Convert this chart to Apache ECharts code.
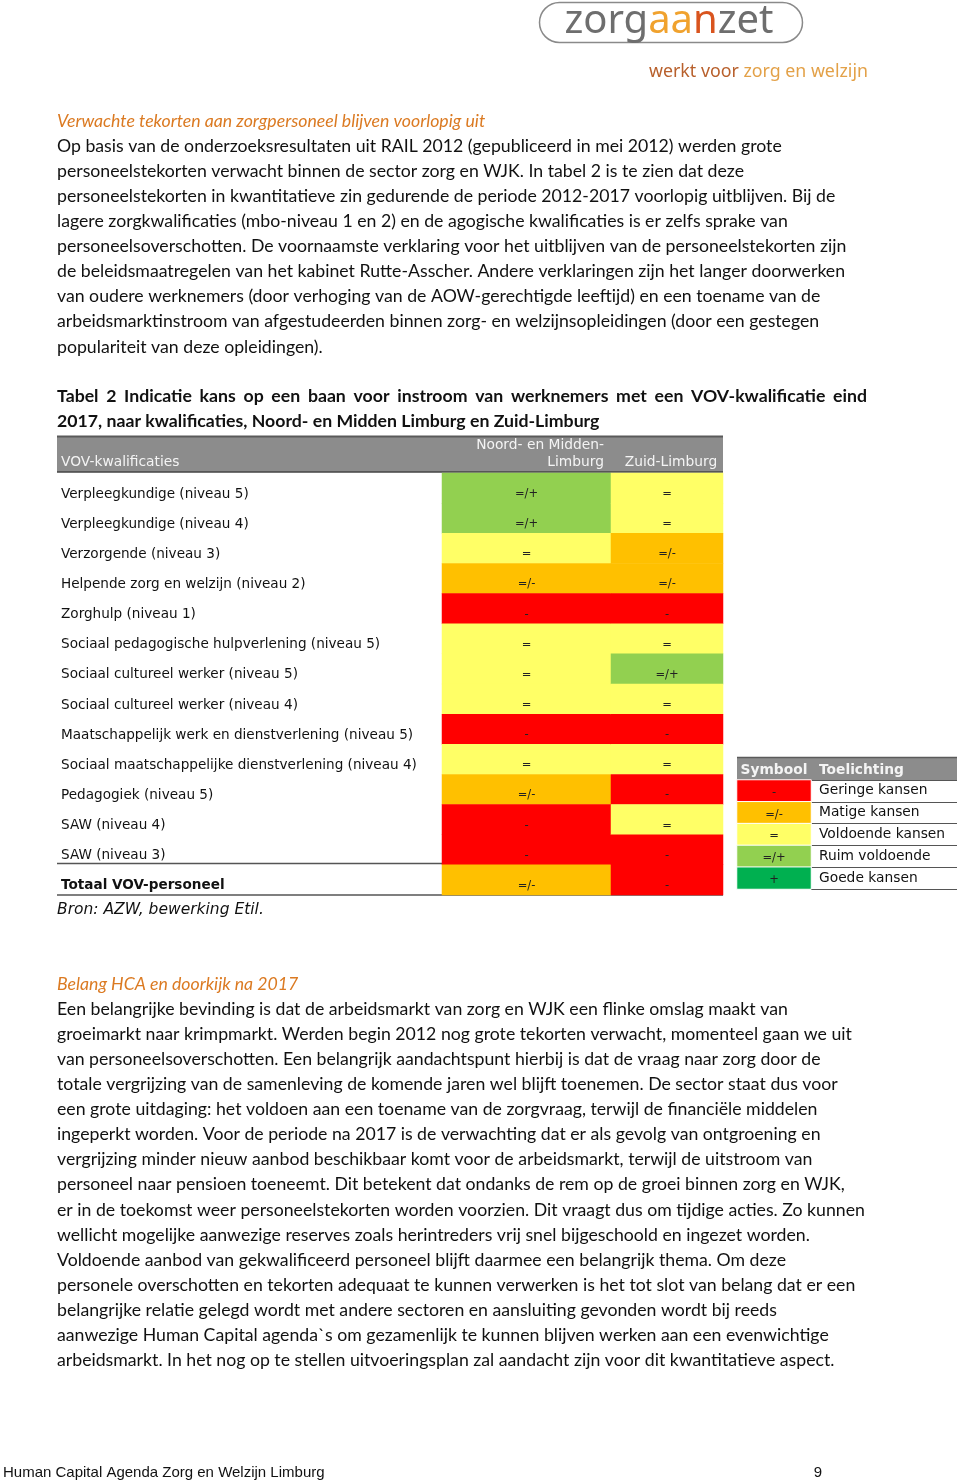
<!DOCTYPE html>
<html><head><meta charset="utf-8">
<script src="https://cdn.jsdelivr.net/npm/echarts@6/dist/echarts.min.js"></script>
<style>html,body{margin:0;padding:0;background:#fff}#c{width:960px;height:1484px}</style>
</head><body><div id="c"></div>
<script>
// ---- data ----
const rowLabels = [
  'Verpleegkundige (niveau 5)',
  'Verpleegkundige (niveau 4)',
  'Verzorgende (niveau 3)',
  'Helpende zorg en welzijn (niveau 2)',
  'Zorghulp (niveau 1)',
  'Sociaal pedagogische hulpverlening (niveau 5)',
  'Sociaal cultureel werker (niveau 5)',
  'Sociaal cultureel werker (niveau 4)',
  'Maatschappelijk werk en dienstverlening (niveau 5)',
  'Sociaal maatschappelijke dienstverlening (niveau 4)',
  'Pedagogiek (niveau 5)',
  'SAW (niveau 4)',
  'SAW (niveau 3)',
  'Totaal VOV-personeel'
];
const regions = ['Noord- en Midden-Limburg', 'Zuid-Limburg'];
// -2 = '-', -1 = '=/-', 0 = '=', 1 = '=/+', 2 = '+'
const noordValues = [1, 1, 0, -1, -2, 0, 0, 0, -2, 0, -1, -2, -2, -1];
const zuidValues  = [0, 0, -1, -1, -2, 0, 1, 0, -2, 0, -2, 0, -2, -2];
const levelValues = [-2, -1, 0, 1, 2];
const levelSymbols = ['-', '=/-', '=', '=/+', '+'];
const levelTexts = ['Geringe kansen', 'Matige kansen', 'Voldoende kansen', 'Ruim voldoende', 'Goede kansen'];
const levelColors = ['#FF0000', '#FFC000', '#FFFF66', '#92D050', '#00B050'];

const para1 = [
  'Op basis van de onderzoeksresultaten uit RAIL 2012 (gepubliceerd in mei 2012) werden grote',
  'personeelstekorten verwacht binnen de sector zorg en WJK. In tabel 2 is te zien dat deze',
  'personeelstekorten in kwantitatieve zin gedurende de periode 2012-2017 voorlopig uitblijven. Bij de',
  'lagere zorgkwalificaties (mbo-niveau 1 en 2) en de agogische kwalificaties is er zelfs sprake van',
  'personeelsoverschotten. De voornaamste verklaring voor het uitblijven van de personeelstekorten zijn',
  'de beleidsmaatregelen van het kabinet Rutte-Asscher. Andere verklaringen zijn het langer doorwerken',
  'van oudere werknemers (door verhoging van de AOW-gerechtigde leeftijd) en een toename van de',
  'arbeidsmarktinstroom van afgestudeerden binnen zorg- en welzijnsopleidingen (door een gestegen',
  'populariteit van deze opleidingen).'
];
const para2 = [
  'Een belangrijke bevinding is dat de arbeidsmarkt van zorg en WJK een flinke omslag maakt van',
  'groeimarkt naar krimpmarkt. Werden begin 2012 nog grote tekorten verwacht, momenteel gaan we uit',
  'van personeelsoverschotten. Een belangrijk aandachtspunt hierbij is dat de vraag naar zorg door de',
  'totale vergrijzing van de samenleving de komende jaren wel blijft toenemen. De sector staat dus voor',
  'een grote uitdaging: het voldoen aan een toename van de zorgvraag, terwijl de financiële middelen',
  'ingeperkt worden. Voor de periode na 2017 is de verwachting dat er als gevolg van ontgroening en',
  'vergrijzing minder nieuw aanbod beschikbaar komt voor de arbeidsmarkt, terwijl de uitstroom van',
  'personeel naar pensioen toeneemt. Dit betekent dat ondanks de rem op de groei binnen zorg en WJK,',
  'er in de toekomst weer personeelstekorten worden voorzien. Dit vraagt dus om tijdige acties. Zo kunnen',
  'wellicht mogelijke aanwezige reserves zoals herintreders vrij snel bijgeschoold en ingezet worden.',
  'Voldoende aanbod van gekwalificeerd personeel blijft daarmee een belangrijk thema. Om deze',
  'personele overschotten en tekorten adequaat te kunnen verwerken is het tot slot van belang dat er een',
  'belangrijke relatie gelegd wordt met andere sectoren en aansluiting gevonden wordt bij reeds',
  'aanwezige Human Capital agenda`s om gezamenlijk te kunnen blijven werken aan een evenwichtige',
  'arbeidsmarkt. In het nog op te stellen uitvoeringsplan zal aandacht zijn voor dit kwantitatieve aspect.'
];

// ---- build ----
const chart = echarts.init(document.getElementById('c'), null, {renderer: 'canvas'});
const BODY = '17.7px Lato';
const TF = 'DejaVu Sans';
const g = [];
function txt(x, y, text, font, fill, align) {
  g.push({type: 'text', x: x, y: y, silent: true,
    style: {text: text, font: font, fill: fill || '#111', textAlign: align || 'left', textVerticalAlign: 'middle'}});
}
function line(x1, y1, x2, y2, color, w) {
  g.push({type: 'line', silent: true, shape: {x1, y1, x2, y2}, style: {stroke: color, lineWidth: w || 1}});
}
const mctx = document.createElement('canvas').getContext('2d');
function justified(x0, x1, y, text, font, fill) {
  mctx.font = font;
  const words = text.split(' ');
  const widths = words.map(w => mctx.measureText(w).width);
  const total = widths.reduce((a, b) => a + b, 0);
  const gap = (x1 - x0 - total) / (words.length - 1);
  let x = x0;
  words.forEach((w, i) => { txt(x, y, w, font, fill); x += widths[i] + gap; });
}
// logo
g.push({type: 'rect', silent: true, shape: {x: 539.5, y: 2.5, width: 263, height: 40, r: 20},
  style: {fill: 'none', stroke: '#8a8a8a', lineWidth: 1.5}});
g.push({type: 'text', x: 669, y: 22, silent: true, style: {
  text: '{a|zorg}{b|aa}{c|n}{a|zet}', textAlign: 'center', textVerticalAlign: 'middle',
  rich: {a: {fill: '#6e6e6e', font: '40px "Noto Sans"'}, b: {fill: '#F0A22E', font: '40px "Noto Sans"'}, c: {fill: '#D9541E', font: '40px "Noto Sans"'}}}});
g.push({type: 'text', x: 868, y: 72, silent: true, style: {
  text: '{a|werkt voor }{b|zorg en welzijn}', textAlign: 'right', textVerticalAlign: 'middle',
  rich: {a: {fill: '#B8602C', font: '17.8px "Noto Sans"'}, b: {fill: '#E3A148', font: '17.8px "Noto Sans"'}}}});

// paragraph 1
txt(57, 121, 'Verwachte tekorten aan zorgpersoneel blijven voorlopig uit', 'italic 17.7px Lato', '#DB7A22');
para1.forEach((t, i) => txt(57, 146 + i * 25.1, t, BODY, '#111'));
// table title
justified(57, 867, 396, 'Tabel 2 Indicatie kans op een baan voor instroom van werknemers met een VOV-kwalificatie eind', 'bold 17.7px Lato', '#111');
txt(57, 421, '2017, naar kwalificaties, Noord- en Midden Limburg en Zuid-Limburg', 'bold 17.7px Lato', '#111');
// header bar
g.push({type: 'rect', silent: true, shape: {x: 57, y: 436, width: 666, height: 36}, style: {fill: '#8c8c8c'}});
line(57, 436.5, 723, 436.5, '#5a5a5a', 2);
line(57, 472, 723, 472, '#444', 1.5);
txt(61, 462, 'VOV-kwalificaties', '13.8px "DejaVu Sans"', '#f4f4f4');
txt(604, 445, 'Noord- en Midden-', '13.8px "DejaVu Sans"', '#f4f4f4', 'right');
txt(604, 462, 'Limburg', '13.8px "DejaVu Sans"', '#f4f4f4', 'right');
txt(671, 462, 'Zuid-Limburg', '13.8px "DejaVu Sans"', '#f4f4f4', 'center');
// row rules
line(57, 863.5, 723, 863.5, '#555', 1.5);
line(57, 895, 723, 895, '#555', 1.5);
txt(57, 910, 'Bron: AZW, bewerking Etil.', 'italic 15.5px "DejaVu Sans"', '#111');
// legend header
g.push({type: 'rect', silent: true, shape: {x: 737, y: 758, width: 220, height: 22}, style: {fill: '#8c8c8c'}});
line(737, 757.5, 957, 757.5, '#5a5a5a', 1.5);
txt(774, 770, 'Symbool', 'bold 13.8px "DejaVu Sans"', '#f4f4f4', 'center');
txt(819, 770, 'Toelichting', 'bold 13.8px "DejaVu Sans"', '#f4f4f4');
// paragraph 2
txt(57, 984, 'Belang HCA en doorkijk na 2017', 'italic 17.7px Lato', '#DB7A22');
para2.forEach((t, i) => txt(57, 1009 + i * 25.1, t, BODY, '#111'));
// footer
txt(3, 1473, 'Human Capital Agenda Zorg en Welzijn Limburg', '15px "Liberation Sans"', '#111');
txt(818, 1473, '9', '15px "Liberation Sans"', '#111', 'center');

const noordData = noordValues.map((v, i) => [0, i, v]);
const zuidData = zuidValues.map((v, i) => [0, i, v]);
const legendData = levelValues.map((v, i) => [0, i, v]);
const symbolOf = v => levelSymbols[levelValues.indexOf(v)];
const cellLabel = {show: true, formatter: p => symbolOf(p.value[2]), color: '#222', fontFamily: TF, fontSize: 11.5, offset: [0, 6]};
const hiddenY = {type: 'category', data: rowLabels, inverse: true, show: false};

chart.setOption({
  animation: false,
  graphic: {elements: g},
  grid: [
    {left: 442, top: 473, width: 169, height: 422},
    {left: 611, top: 473, width: 112, height: 422},
    {left: 737, top: 780, width: 74, height: 109},
    {left: 811, top: 780, width: 146, height: 109}
  ],
  xAxis: [
    {gridIndex: 0, type: 'category', data: [regions[0]], show: false},
    {gridIndex: 1, type: 'category', data: [regions[1]], show: false},
    {gridIndex: 2, type: 'category', data: ['Symbool'], show: false},
    {gridIndex: 3, type: 'value', min: 0, max: 1, show: false}
  ],
  yAxis: [
    {gridIndex: 0, type: 'category', data: rowLabels, inverse: true,
      axisLine: {show: false}, axisTick: {show: false}, splitLine: {show: false},
      axisLabel: {align: 'left', margin: 381, color: '#111', fontFamily: TF, fontSize: 13.6, padding: [12, 0, 0, 0],
        formatter: v => v === 'Totaal VOV-personeel' ? '{b|' + v + '}' : v,
        rich: {b: {fontWeight: 'bold', fontFamily: TF, fontSize: 13.6, color: '#111'}}}},
    Object.assign({gridIndex: 1}, hiddenY),
    {gridIndex: 2, type: 'category', data: levelTexts, inverse: true, position: 'right',
      axisLine: {show: false}, axisTick: {show: false}, splitLine: {show: false},
      axisLabel: {align: 'left', margin: 8, color: '#111', fontFamily: TF, fontSize: 13.8, padding: [9, 0, 0, 0]}},
    {gridIndex: 3, type: 'category', data: levelTexts, inverse: true,
      axisLine: {show: false}, axisTick: {show: false}, axisLabel: {show: false},
      splitLine: {show: true, lineStyle: {color: '#555', width: 1}}}
  ],
  visualMap: {type: 'piecewise', show: false, seriesIndex: [0, 1, 2], dimension: 2,
    pieces: levelValues.map((v, i) => ({value: v, color: levelColors[i]}))},
  series: [
    {type: 'heatmap', xAxisIndex: 0, yAxisIndex: 0, data: noordData, label: cellLabel,
      itemStyle: {borderWidth: 0}, emphasis: {disabled: true}},
    {type: 'heatmap', xAxisIndex: 1, yAxisIndex: 1, data: zuidData, label: cellLabel,
      itemStyle: {borderWidth: 0}, emphasis: {disabled: true}},
    {type: 'heatmap', xAxisIndex: 2, yAxisIndex: 2, data: legendData,
      label: {show: true, formatter: p => symbolOf(p.value[2]), color: '#222', fontFamily: TF, fontSize: 11.5, offset: [0, 2]},
      itemStyle: {borderWidth: 1, borderColor: '#fff'}, emphasis: {disabled: true}},
    {type: 'scatter', xAxisIndex: 3, yAxisIndex: 3, data: [], silent: true}
  ]
});
</script></body></html>
